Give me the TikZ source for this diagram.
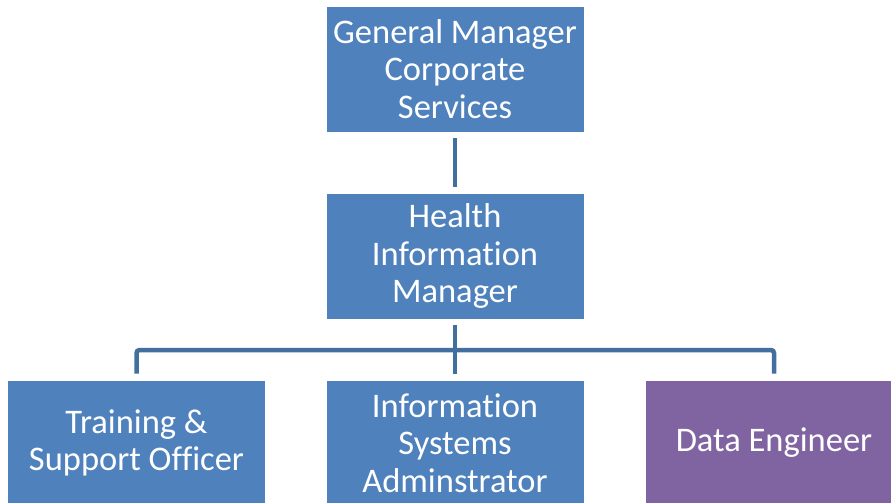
\documentclass[tikz,border=0pt]{standalone}
\usepackage{fontspec}
\setmainfont{Carlito}[RawFeature={-liga;-clig;-calt;-rlig;-dlig}]
\definecolor{boxblue}{HTML}{4F81BD}
\definecolor{boxpurple}{HTML}{8064A2}
\definecolor{linkblue}{HTML}{41709F}
\begin{document}
\begin{tikzpicture}[x=1pt,y=-1pt,
  orgbox/.style={fill=boxblue, draw=white, line width=0.6pt, minimum width=258pt, minimum height=126pt,
    text=white, align=center, inner sep=0pt, font=\fontsize{34.5}{37.5}\selectfont},
  link/.style={draw=linkblue, line width=4.5pt, rounded corners=3pt}]
\useasboundingbox (0,0) rectangle (891,503);
\clip (0,0) rectangle (891,503);
\node[orgbox] (gm) at (455,69) {General Manager\\Corporate\\Services};
\node[orgbox] (him) at (455,256) {Health\\Information\\Manager};
\node[orgbox] (tso) at (136.5,443) {Training \&\\Support Officer};
\node[orgbox] (isa) at (455,443) {Information\\Systems\\Adminstrator};
\node[orgbox, fill=boxpurple] (de) at (774,443) {Data Engineer};
\coordinate (bar) at (455,350);
\draw[link] ([yshift=-6pt]gm.south) -- ([yshift=6pt]him.north);
\draw[link] ([yshift=-6pt]him.south) -- ([yshift=6pt]isa.north);
\draw[link] ([yshift=6pt]tso.north) |- (bar) -| ([yshift=6pt]de.north);
\end{tikzpicture}
\end{document}
